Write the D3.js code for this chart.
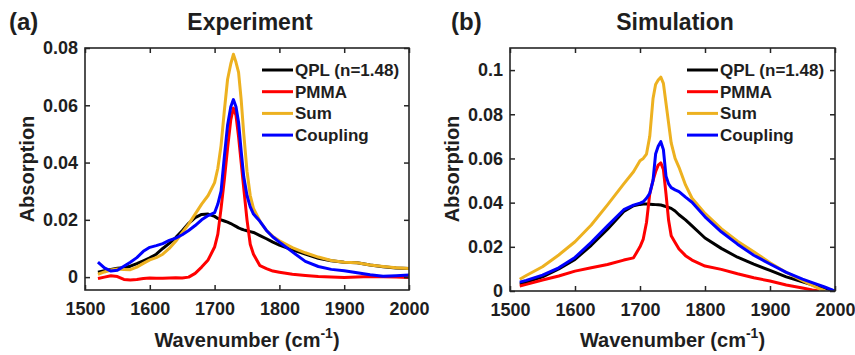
<!DOCTYPE html>
<html>
<head>
<meta charset="utf-8">
<script src="https://cdn.jsdelivr.net/npm/d3@7"></script>
<style>
  body { margin: 0; background: #fff; }
  svg text { font-family: "Liberation Sans", Arial, sans-serif; font-weight: bold; fill: #1e1e1e; }
</style>
</head>
<body>
<script>
// series names + colours (MATLAB default-ish)
const seriesNames = ['QPL (n=1.48)', 'PMMA', 'Sum', 'Coupling'];
const seriesColors = ['#000000', '#ff0000', '#edb120', '#0000ff'];

// (a) experiment
const wnA = [1520, 1530, 1540, 1550, 1560, 1570, 1580, 1590, 1600, 1610, 1620, 1630, 1640, 1650, 1660, 1670, 1680, 1690, 1700,
  1705, 1710, 1715, 1720, 1725, 1729, 1733, 1737, 1741, 1745, 1750, 1755, 1760, 1770, 1780, 1790, 1800,
  1820, 1840, 1860, 1880, 1900, 1920, 1940, 1960, 1980, 2000];
const qplA = [0.0017, 0.0022, 0.0027, 0.0031, 0.0033, 0.0038, 0.0047, 0.0057, 0.0067, 0.0080, 0.0100, 0.0118, 0.0138, 0.0162, 0.0188, 0.0208, 0.0219, 0.0220, 0.0212,
  0.0205, 0.0200, 0.0196, 0.0192, 0.0187, 0.0182, 0.0177, 0.0172, 0.0168, 0.0165, 0.0162, 0.0159, 0.0156, 0.0145, 0.0134, 0.0122, 0.0112,
  0.0095, 0.0080, 0.0066, 0.0057, 0.0052, 0.0050, 0.0042, 0.0036, 0.0032, 0.0030];
const pmmaA = [-0.0005, 0.0000, 0.0005, 0.0002, -0.0008, -0.0010, -0.0008, -0.0005, -0.0003, -0.0004, -0.0004, -0.0003, -0.0002, -0.0003, 0.0000, 0.0013, 0.0035, 0.0060, 0.0105,
  0.0150, 0.0240, 0.0340, 0.0450, 0.0550, 0.0590, 0.0565, 0.0490, 0.0400, 0.0310, 0.0200, 0.0115, 0.0080, 0.0040, 0.0030, 0.0021, 0.0017,
  0.0010, 0.0006, 0.0002, 0.0000, -0.0001, 0.0000, 0.0002, 0.0001, 0.0000, -0.0001];
const sumA = [0.0010, 0.0018, 0.0025, 0.0028, 0.0027, 0.0026, 0.0035, 0.0048, 0.0060, 0.0068, 0.0080, 0.0100, 0.0125, 0.0155, 0.0185, 0.0220, 0.0255, 0.0285, 0.0330,
  0.0380, 0.0460, 0.0580, 0.0690, 0.0745, 0.0778, 0.0750, 0.0715, 0.0620, 0.0500, 0.0370, 0.0285, 0.0240, 0.0195, 0.0163, 0.0142, 0.0127,
  0.0103, 0.0085, 0.0070, 0.0058, 0.0052, 0.0050, 0.0042, 0.0037, 0.0033, 0.0030];
const coupA = [0.0052, 0.0032, 0.0021, 0.0024, 0.0038, 0.0052, 0.0068, 0.0090, 0.0104, 0.0110, 0.0117, 0.0128, 0.0136, 0.0148, 0.0163, 0.0180, 0.0200, 0.0215, 0.0225,
  0.0255, 0.0300, 0.0420, 0.0530, 0.0595, 0.0620, 0.0595, 0.0540, 0.0440, 0.0350, 0.0285, 0.0245, 0.0220, 0.0195, 0.0163, 0.0140, 0.0122,
  0.0088, 0.0055, 0.0037, 0.0027, 0.0022, 0.0015, 0.0008, 0.0003, 0.0005, 0.0007];

// (b) simulation
const wnB = [1515, 1525, 1550, 1575, 1600, 1625, 1650, 1675, 1690, 1700, 1705, 1710, 1715, 1720, 1724, 1728, 1732, 1736,
  1740, 1744, 1748, 1754, 1760, 1770, 1780, 1800, 1825, 1850, 1875, 1900, 1925, 1950, 1965, 1975, 1985, 2000];
const qplB = [0.0032, 0.0040, 0.0064, 0.0100, 0.0143, 0.0207, 0.0280, 0.0360, 0.0386, 0.0392, 0.0394, 0.0394, 0.0393, 0.0392, 0.0391, 0.0390, 0.0389, 0.0386,
  0.0382, 0.0378, 0.0374, 0.0362, 0.0345, 0.0322, 0.0295, 0.0240, 0.0193, 0.0153, 0.0122, 0.0093, 0.0064, 0.0042, 0.0028, 0.0020, 0.0012, 0.0000];
const pmmaB = [0.0023, 0.0030, 0.0050, 0.0068, 0.0090, 0.0105, 0.0120, 0.0140, 0.0150, 0.0200, 0.0235, 0.0310, 0.0440, 0.0500, 0.0540, 0.0570, 0.0580, 0.0550,
  0.0440, 0.0320, 0.0250, 0.0220, 0.0190, 0.0160, 0.0140, 0.0113, 0.0098, 0.0078, 0.0060, 0.0045, 0.0027, 0.0014, 0.0005, 0.0000, null, null];
const sumB = [0.0053, 0.0070, 0.0110, 0.0163, 0.0223, 0.0299, 0.0390, 0.0485, 0.0540, 0.0590, 0.0600, 0.0620, 0.0700, 0.0870, 0.0935, 0.0955, 0.0968, 0.0940,
  0.0850, 0.0760, 0.0670, 0.0600, 0.0560, 0.0480, 0.0420, 0.0351, 0.0282, 0.0225, 0.0178, 0.0128, 0.0084, 0.0047, 0.0025, 0.0012, 0.0000, null];
const coupB = [0.0040, 0.0048, 0.0072, 0.0105, 0.0152, 0.0220, 0.0295, 0.0368, 0.0389, 0.0398, 0.0404, 0.0420, 0.0442, 0.0500, 0.0620, 0.0655, 0.0676, 0.0640,
  0.0520, 0.0485, 0.0468, 0.0458, 0.0450, 0.0425, 0.0402, 0.0336, 0.0268, 0.0212, 0.0162, 0.0122, 0.0084, 0.0054, 0.0038, 0.0028, 0.0017, 0.0000];

const xTicks = [1500, 1600, 1700, 1800, 1900, 2000];
const yTicksA = [0, 0.02, 0.04, 0.06, 0.08];
const yTickLabelsA = ['0', '0.02', '0.04', '0.06', '0.08'];
const yTicksB = [0, 0.02, 0.04, 0.06, 0.08, 0.1];
const yTickLabelsB = ['0', '0.02', '0.04', '0.06', '0.08', '0.1'];

const W = 855, H = 355;
const svg = d3.select('body').append('svg')
  .attr('width', W).attr('height', H);

function drawPanel(p) {
  const x = d3.scaleLinear().domain([1500, 2000]).range([p.left, p.right]);
  const y = d3.scaleLinear().domain(p.yDomain).range([p.bottom, p.top]);
  const g = svg.append('g');

  // clip for the curves
  g.append('clipPath').attr('id', 'clip' + p.id)
    .append('rect')
    .attr('x', p.left).attr('y', p.top)
    .attr('width', p.right - p.left).attr('height', p.bottom - p.top);

  const line = d3.line()
    .defined(d => d[1] !== null)
    .x(d => x(d[0]))
    .y(d => y(d[1]));

  const curves = g.append('g').attr('clip-path', `url(#clip${p.id})`);
  p.series.forEach((vals, i) => {
    curves.append('path')
      .datum(p.wn.map((w, j) => [w, vals[j]]))
      .attr('fill', 'none')
      .attr('stroke', seriesColors[i])
      .attr('stroke-width', 3)
      .attr('stroke-linejoin', 'round')
      .attr('d', line);
  });

  // axes, MATLAB style ticks pointing inwards on all four sides
  const ax = g.append('g').attr('transform', `translate(0,${p.bottom})`)
    .call(d3.axisBottom(x).tickValues(xTicks).tickFormat(d3.format('d'))
      .tickSizeInner(-5).tickSizeOuter(0).tickPadding(12));
  const ay = g.append('g').attr('transform', `translate(${p.left},0)`)
    .call(d3.axisLeft(y).tickValues(p.yTicks).tickFormat((d, i) => p.yLabels[i])
      .tickSizeInner(-5).tickSizeOuter(0).tickPadding(7));
  const at = g.append('g').attr('transform', `translate(0,${p.top})`)
    .call(d3.axisTop(x).tickValues(xTicks).tickFormat('').tickSizeInner(-5).tickSizeOuter(0));
  const ar = g.append('g').attr('transform', `translate(${p.right},0)`)
    .call(d3.axisRight(y).tickValues(p.yTicks).tickFormat('').tickSizeInner(-5).tickSizeOuter(0));

  [ax, ay, at, ar].forEach(a => {
    a.select('.domain').remove();
    a.selectAll('.tick line').attr('stroke', '#262626').attr('stroke-width', 1.5);
    a.selectAll('.tick text').attr('font-size', 18).attr('fill', '#1e1e1e')
      .attr('font-family', '"Liberation Sans", Arial, sans-serif').attr('font-weight', 'bold');
  });

  g.append('rect')
    .attr('x', p.left).attr('y', p.top)
    .attr('width', p.right - p.left).attr('height', p.bottom - p.top)
    .attr('fill', 'none').attr('stroke', '#262626').attr('stroke-width', 1.6);

  // legend
  const lg = g.append('g');
  seriesNames.forEach((name, i) => {
    const ly = 70 + i * 21.7;
    lg.append('line')
      .attr('x1', p.legendX).attr('x2', p.legendX + 31)
      .attr('y1', ly).attr('y2', ly)
      .attr('stroke', seriesColors[i]).attr('stroke-width', 3);
    lg.append('text')
      .attr('x', p.legendX + 33).attr('y', ly + 6)
      .attr('font-size', 17)
      .text(name);
  });

  // titles and labels
  g.append('text').attr('x', p.tagX).attr('y', 30).attr('font-size', 24).text(p.tag);
  g.append('text').attr('x', p.titleX).attr('y', 30).attr('font-size', 23)
    .attr('text-anchor', 'middle').text(p.title);

  const xl = g.append('text').attr('x', (p.left + p.right) / 2 - 0).attr('y', 347)
    .attr('font-size', 20).attr('text-anchor', 'middle');
  xl.append('tspan').text('Wavenumber (cm');
  xl.append('tspan').attr('font-size', 14).attr('dy', -9).text('-1');
  xl.append('tspan').attr('dy', 9).text(')');

  g.append('text')
    .attr('transform', `translate(${p.yLabelX},169) rotate(-90)`)
    .attr('font-size', 20).attr('text-anchor', 'middle')
    .text('Absorption');
}

drawPanel({
  id: 'a', left: 85, right: 409, top: 48, bottom: 290,
  yDomain: [-0.0045, 0.08], yTicks: yTicksA, yLabels: yTickLabelsA,
  wn: wnA, series: [qplA, pmmaA, sumA, coupA],
  legendX: 262, tag: '(a)', tagX: 9, title: 'Experiment', titleX: 250, yLabelX: 34
});

drawPanel({
  id: 'b', left: 510, right: 835, top: 48, bottom: 291,
  yDomain: [0, 0.11], yTicks: yTicksB, yLabels: yTickLabelsB,
  wn: wnB, series: [qplB, pmmaB, sumB, coupB],
  legendX: 687, tag: '(b)', tagX: 451, title: 'Simulation', titleX: 675, yLabelX: 459
});
</script>
</body>
</html>
